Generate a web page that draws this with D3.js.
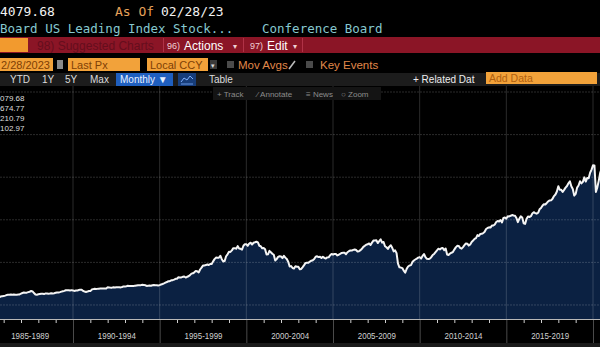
<!DOCTYPE html>
<html><head><meta charset="utf-8">
<script src="https://cdn.jsdelivr.net/npm/d3@7"></script>
<style>
html,body{margin:0;padding:0;background:#000;overflow:hidden;}
svg{display:block;}
text{font-family:"Liberation Sans",Arial,sans-serif;}
.mono{font-family:"DejaVu Sans Mono",monospace;}
</style></head>
<body>
<script>
// ---- data (S&P 500 monthly averages, read against the chart) ----
const seriesStart = {year: 1985, month: 6}; // July 1985 (0-based month)
const monthlyValues = [
 192.5,188.3,184.1,186.2,197.5,207.3,
 208.2,219.4,232.3,237.7,238.5,245.3,240.2,245.0,238.3,237.4,245.1,248.6,
 264.5,280.9,292.5,289.3,289.1,301.4,310.1,329.4,318.7,280.2,245.0,241.0,
 250.5,258.1,265.7,262.6,256.1,270.7,269.1,263.7,268.0,277.4,271.0,276.5,
 285.4,294.0,292.7,302.3,313.9,323.7,331.9,346.6,347.3,347.4,340.2,348.6,
 340.0,330.5,338.5,338.2,350.3,360.4,360.0,330.8,315.4,307.1,315.3,328.8,
 325.5,362.3,372.3,379.7,378.0,378.3,380.2,389.4,387.2,386.9,385.9,388.5,
 416.1,412.6,407.4,407.4,414.8,408.3,415.1,417.9,418.5,412.5,422.8,435.6,
 435.2,441.7,450.2,443.1,445.3,448.1,447.3,454.1,459.2,463.9,462.9,466.0,
 473.0,471.6,463.8,447.2,450.9,454.8,451.4,464.2,467.0,463.8,461.0,455.2,
 465.3,481.9,493.2,507.9,523.8,539.4,557.4,559.1,578.8,582.9,595.5,614.6,
 614.4,649.5,647.1,647.2,661.2,668.5,644.1,662.7,674.9,701.5,735.7,743.3,
 766.2,798.4,792.2,763.9,833.1,876.3,925.3,927.7,937.0,951.2,938.9,962.4,
 963.4,1023.7,1076.8,1112.2,1108.4,1108.4,1156.6,1074.6,1020.6,1032.5,1144.4,1190.1,
 1248.8,1246.6,1281.7,1334.8,1332.1,1322.6,1381.0,1327.5,1318.2,1300.0,1391.0,1428.7,
 1425.6,1388.9,1442.2,1461.4,1418.5,1462.0,1473.0,1485.5,1468.1,1390.1,1378.0,1330.9,
 1335.6,1305.8,1185.9,1189.8,1270.4,1238.7,1204.5,1178.5,1044.6,1076.6,1129.7,1144.9,
 1140.2,1100.7,1153.8,1111.9,1079.3,1014.1,903.6,912.6,867.8,854.6,909.9,899.2,
 895.8,837.6,846.6,890.0,936.0,988.0,992.5,989.5,1019.4,1038.7,1049.9,1080.6,
 1132.5,1143.4,1124.0,1133.1,1102.8,1132.8,1105.9,1088.9,1117.7,1118.1,1168.9,1199.2,
 1181.4,1199.6,1194.9,1164.4,1178.3,1202.3,1222.2,1224.3,1225.9,1192.0,1237.4,1262.1,
 1278.7,1276.7,1293.7,1302.2,1290.0,1253.1,1260.2,1287.2,1317.8,1363.4,1388.6,1416.4,
 1424.2,1444.8,1407.0,1463.7,1511.1,1514.5,1520.7,1454.6,1497.1,1539.7,1463.4,1479.2,
 1378.8,1354.9,1316.9,1370.5,1403.2,1341.3,1257.3,1281.5,1217.0,968.8,883.0,877.6,
 865.6,805.2,757.1,848.2,902.4,926.1,935.8,1009.7,1044.6,1067.7,1088.1,1110.4,
 1123.6,1089.2,1152.1,1197.3,1125.1,1083.4,1079.8,1087.3,1122.1,1171.6,1198.9,1241.5,
 1282.6,1321.1,1304.5,1331.5,1338.3,1287.3,1325.2,1185.3,1173.9,1207.2,1226.4,1243.3,
 1300.6,1352.5,1389.2,1386.4,1341.3,1323.5,1359.8,1403.4,1443.4,1437.8,1394.5,1422.3,
 1480.4,1512.3,1550.8,1570.7,1639.8,1618.8,1668.7,1670.1,1687.2,1720.0,1783.5,1807.8,
 1822.4,1817.0,1863.5,1864.3,1889.8,1947.1,1973.1,1961.5,1993.2,1937.3,2044.6,2054.3,
 2028.2,2082.2,2080.0,2094.9,2111.9,2099.3,2094.1,2039.9,1944.4,2024.8,2080.6,2054.1,
 1918.6,1904.4,2022.0,2075.5,2065.6,2083.9,2148.9,2177.5,2157.7,2143.0,2165.0,2246.6,
 2275.1,2329.9,2366.8,2359.3,2395.4,2434.0,2454.1,2456.2,2492.8,2557.0,2593.6,2664.3,
 2789.8,2705.2,2702.8,2653.6,2701.5,2754.4,2793.6,2857.8,2901.5,2785.5,2723.2,2567.3,
 2607.4,2754.9,2804.0,2903.8,2854.7,2890.2,2996.1,2897.5,2982.2,2977.7,3104.9,3176.8,
 3278.2,3277.3,2652.4,2762.0,2919.6,3104.7,3207.6,3391.7,3365.5,3418.7,3549.0,3695.3,
 3793.8,3883.4,3910.5,4141.2,4167.9,4238.5,4363.7,4454.2,4445.5,4460.7,4667.4,4674.8,
 4573.8,4436.0,4391.3,4391.3,4040.4,3899.0,3911.7,4158.6,3850.5,3726.1,3917.5,3912.4,
 3960.7,4079.7
];
const gridValues = [0, 1000, 2000, 3000, 4000, 5000];
const periodStarts = [1985, 1990, 1995, 2000, 2005, 2010, 2015, 2020];
const periodLabels = ["1985-1989","1990-1994","1995-1999","2000-2004","2005-2009","2010-2014","2015-2019","2020-2024"];
const legendValues = ["079.68","674.77","210.79","102.97"];
const lastValue = "4079.68";
const asOfDate = "02/28/23";
const titleText = "Board US Leading Index Stock...";
const sourceText = "Conference Board";

// ---- layout ----
const W = 600, H = 347;
const svg = d3.select("body").append("svg").attr("width", W).attr("height", H);
svg.append("rect").attr("width", W).attr("height", H).attr("fill", "#000");

const x = d3.scaleLinear().domain([1990, 2020]).range([73, 593]);
const y = d3.scaleLinear().domain([-329, 5000]).range([319, 92]);
const yBase = -329;

const points = monthlyValues.map((v, i) => ({t: seriesStart.year + (seriesStart.month + i) / 12, v}));

// ---- header rows ----
svg.append("text").attr("class","mono").attr("x",0).attr("y",16).attr("font-size",13).attr("fill","#f2f2f2").text(lastValue);
svg.append("text").attr("class","mono").attr("x",115).attr("y",16).attr("font-size",13).attr("fill","#e6a05a").text("As Of");
svg.append("text").attr("class","mono").attr("x",161).attr("y",16).attr("font-size",13).attr("fill","#f2f2f2").text(asOfDate);
svg.append("text").attr("class","mono").attr("x",0).attr("y",33).attr("font-size",12.5).attr("fill","#86c8cf").text(titleText);
svg.append("text").attr("class","mono").attr("x",262).attr("y",33).attr("font-size",12.5).attr("fill","#86c8cf").text(sourceText);

// red bar
svg.append("rect").attr("x",0).attr("y",37).attr("width",W).attr("height",16).attr("fill","#8b1526");
svg.append("rect").attr("x",0).attr("y",38).attr("width",28).attr("height",14).attr("fill","#f29a2e");
svg.append("text").attr("x",37).attr("y",49.5).attr("font-size",12).attr("fill","#650e1d").text("98) Suggested Charts");
[163,243,302].forEach(xx => svg.append("rect").attr("x",xx).attr("y",38).attr("width",1).attr("height",14).attr("fill","#b03246"));
svg.append("text").attr("x",167).attr("y",49).attr("font-size",9).attr("fill","#f0d0d4").text("96)");
svg.append("text").attr("x",184).attr("y",49.5).attr("font-size",12).attr("fill","#ffffff").text("Actions");
svg.append("text").attr("x",233).attr("y",48.5).attr("font-size",8).attr("fill","#f0d0d4").text("▾");
svg.append("text").attr("x",250).attr("y",49).attr("font-size",9).attr("fill","#f0d0d4").text("97)");
svg.append("text").attr("x",267).attr("y",49.5).attr("font-size",12).attr("fill","#ffffff").text("Edit");
svg.append("text").attr("x",293).attr("y",48.5).attr("font-size",8).attr("fill","#f0d0d4").text("▾");

// input row
const orange = "#f2a23a", orangeText = "#7e3f05";
[[0,53,"2/28/2023",1],[68,72,"Last Px",71],[147,61,"Local CCY",150]].forEach(([bx,bw,t,tx]) => {
  svg.append("rect").attr("x",bx).attr("y",58).attr("width",bw).attr("height",13).attr("fill",orange);
  svg.append("text").attr("x",tx).attr("y",68.5).attr("font-size",11).attr("fill",orangeText).text(t);
});
svg.append("rect").attr("x",57).attr("y",60).attr("width",6).attr("height",9).attr("fill","#8a8a8a");
svg.append("rect").attr("x",210).attr("y",60).attr("width",7).attr("height",9).attr("fill","#3a3a3a");
svg.append("text").attr("x",211).attr("y",67.5).attr("font-size",7).attr("fill","#ddd").text("▾");
svg.append("rect").attr("x",227).attr("y",61).attr("width",7).attr("height",7).attr("fill","#4a4a4a");
svg.append("text").attr("x",238).attr("y",69).attr("font-size",11.5).attr("fill","#e0884a").text("Mov Avgs");
svg.append("line").attr("x1",289).attr("y1",69).attr("x2",295).attr("y2",61).attr("stroke","#bbb").attr("stroke-width",1.5);
svg.append("rect").attr("x",306).attr("y",61).attr("width",7).attr("height",7).attr("fill","#4a4a4a");
svg.append("text").attr("x",320).attr("y",69).attr("font-size",11.5).attr("fill","#e0884a").text("Key Events");

// period row
svg.append("rect").attr("x",0).attr("y",73).attr("width",W).attr("height",13).attr("fill","#1c1c1c");
[["YTD",10],["1Y",42],["5Y",65],["Max",90]].forEach(([t,tx]) =>
  svg.append("text").attr("x",tx).attr("y",83).attr("font-size",10).attr("fill","#dcdcdc").text(t));
svg.append("rect").attr("x",116).attr("y",73).attr("width",57).attr("height",13).attr("fill","#1f5fbf");
svg.append("text").attr("x",120).attr("y",83).attr("font-size",10).attr("fill","#e8f0ff").text("Monthly ▼");
svg.append("rect").attr("x",178).attr("y",73).attr("width",18).attr("height",13).attr("fill","#173d7a");
svg.append("path").attr("d","M181,82 L184,78 L187,80 L190,76 L193,79").attr("fill","none").attr("stroke","#7fb0ff").attr("stroke-width",1);
svg.append("line").attr("x1",181).attr("y1",84).attr("x2",193).attr("y2",84).attr("stroke","#7fb0ff").attr("stroke-width",0.8);
svg.append("text").attr("x",209).attr("y",83).attr("font-size",10).attr("fill","#dcdcdc").text("Table");
svg.append("text").attr("x",413).attr("y",83).attr("font-size",10).attr("fill","#eeeeee").text("+ Related Dat");
svg.append("rect").attr("x",486).attr("y",72).attr("width",111).attr("height",12).attr("fill",orange);
svg.append("text").attr("x",489).attr("y",82).attr("font-size",10.5).attr("fill","#b0600f").text("Add Data");

// ---- plot ----
const defs = svg.append("defs");
defs.append("clipPath").attr("id","plotClip").append("rect").attr("x",0).attr("y",86).attr("width",W).attr("height",233);
const plot = svg.append("g").attr("clip-path","url(#plotClip)");

plot.append("path").datum(points)
  .attr("fill","#0b2142")
  .attr("d", d3.area().x(d => x(d.t)).y0(y(yBase)).y1(d => y(d.v)));

// grid
plot.selectAll(".hg").data(gridValues).join("line")
  .attr("x1",0).attr("x2",W).attr("y1",d=>y(d)).attr("y2",d=>y(d))
  .attr("stroke","rgba(255,255,255,0.17)").attr("stroke-width",1).attr("stroke-dasharray","2,1");
plot.selectAll(".vg").data(periodStarts.slice(1)).join("line")
  .attr("x1",d=>x(d)).attr("x2",d=>x(d)).attr("y1",86).attr("y2",319)
  .attr("stroke","rgba(255,255,255,0.17)").attr("stroke-width",1);

plot.append("path").datum(points)
  .attr("fill","none").attr("stroke","#f4f4f4").attr("stroke-width",2).attr("stroke-linejoin","round")
  .attr("d", d3.line().x(d => x(d.t)).y(d => y(d.v)));

// sub toolbar
svg.append("rect").attr("x",213).attr("y",87).attr("width",168).attr("height",13).attr("fill","#141414");
[["+ Track",217],["⁄ Annotate",257],["≡ News",306],["○ Zoom",341]].forEach(([t,tx]) =>
  svg.append("text").attr("x",tx).attr("y",96.5).attr("font-size",8).attr("fill","#8c8c8c").text(t));

// legend values
legendValues.forEach((t,i) =>
  svg.append("text").attr("x",0).attr("y",101 + i*10).attr("font-size",8).attr("fill","#dddddd").text(t));

// ---- x axis ----
const years = d3.range(1986, 2024).filter(yr => yr % 5 !== 0);
const minorAxis = d3.axisBottom(x).tickValues(years).tickSize(4).tickFormat("");
const gMinor = svg.append("g").attr("transform","translate(0,319)").call(minorAxis);
gMinor.select(".domain").remove();
gMinor.selectAll("line").attr("stroke","#cfcfcf");

const majorAxis = d3.axisBottom(x).tickValues(periodStarts.slice(1)).tickSize(24).tickFormat("");
const gMajor = svg.append("g").attr("transform","translate(0,319)").call(majorAxis);
gMajor.select(".domain").remove();
gMajor.selectAll("line").attr("stroke","#4a4a4a");

svg.append("line").attr("x1",0).attr("x2",W).attr("y1",319.5).attr("y2",319.5).attr("stroke","#b8b8b8").attr("stroke-width",1);

const labelAxis = d3.axisBottom(x).tickValues(periodStarts.map(p => p + 2.5)).tickSize(0)
  .tickFormat((d,i) => periodLabels[i]);
const gLab = svg.append("g").attr("transform","translate(0,319)").call(labelAxis);
gLab.select(".domain").remove();
gLab.selectAll("text").attr("y",20).attr("dy",0).attr("font-size",9.5).attr("fill","#d0d0d0")
  .attr("font-family","Liberation Sans, Arial, sans-serif")
  .attr("textLength",38).attr("lengthAdjust","spacingAndGlyphs");
gLab.selectAll(".tick").filter(d => x(d) > W - 20).remove();

svg.append("rect").attr("x",0).attr("y",343).attr("width",W).attr("height",4).attr("fill","#1a1a1a");
</script>
</body></html>
